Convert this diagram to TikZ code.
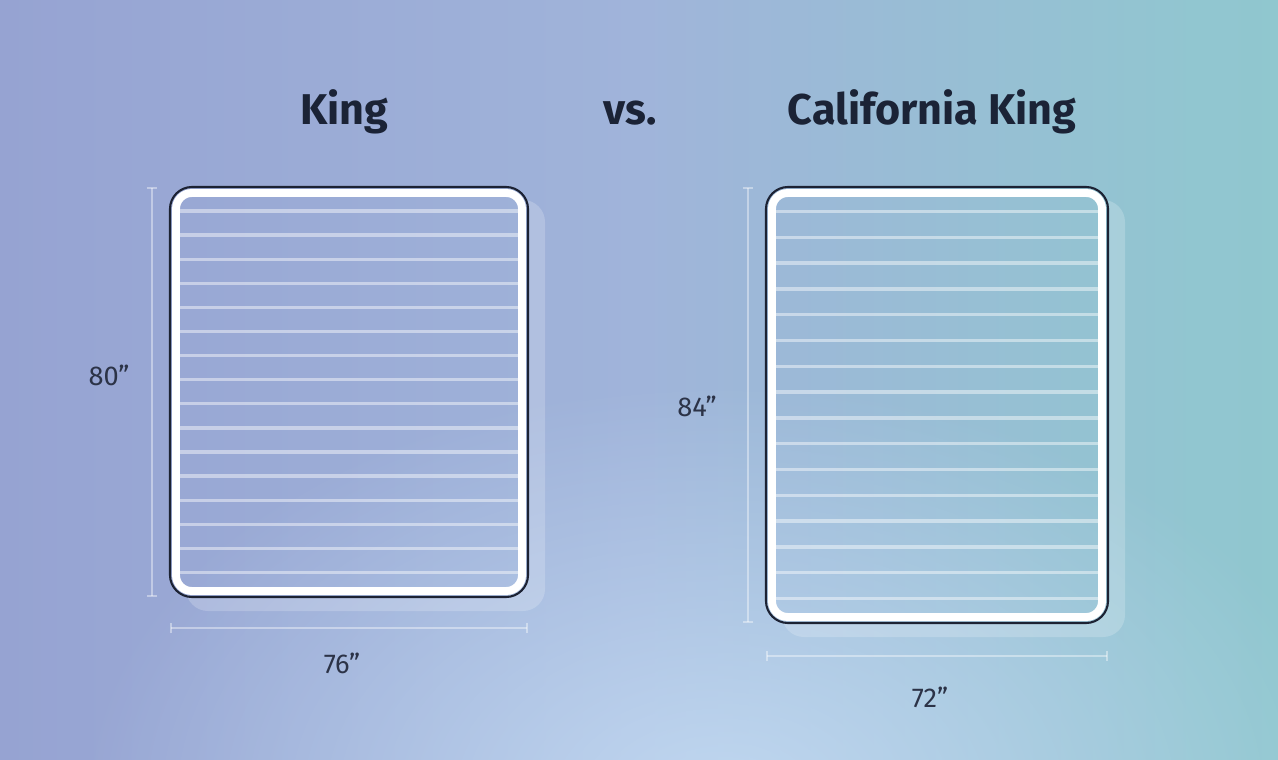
\documentclass[tikz,border=0pt]{standalone}
\usepackage{fontspec}
\setmainfont{Fira Sans}
\usetikzlibrary{arrows.meta,fadings}
\definecolor{bgA}{RGB}{138,147,200}
\definecolor{bgB}{RGB}{150,163,210}
\definecolor{bgC}{RGB}{160,180,218}
\definecolor{bgD}{RGB}{145,198,208}
\definecolor{bgE}{RGB}{136,204,198}
\definecolor{bgLight}{HTML}{C6DDF4}
\definecolor{edgeC}{HTML}{1C2233}
\definecolor{titleC}{HTML}{1B2336}
\definecolor{labelC}{HTML}{2C3347}
\pgfdeclarehorizontalshading{bgshade}{100bp}{color(0bp)=(bgA); color(25bp)=(bgB); color(50bp)=(bgC); color(72bp)=(bgD); color(100bp)=(bgE)}
\tikzfading[name=myfade, inner color=transparent!0, outer color=transparent!100]
\tikzset{
  dimline/.style={draw=white, draw opacity=0.4, line width=1.1pt, {Bar[width=6pt]}-{Bar[width=6pt]}},
  slat/.style={draw=white, draw opacity=0.45, line width=1.9pt},
  framebox/.style={draw=white, line width=4.5pt, rounded corners=9pt},
  edgebox/.style={draw=edgeC, line width=1.2pt, rounded corners=12.5pt},
  shadowbox/.style={fill=white, fill opacity=0.2, rounded corners=12.5pt},
  title/.style={font=\fontsize{24.5}{28}\selectfont\bfseries, text=titleC, anchor=base, inner sep=0pt},
  dimlabel/.style={font=\fontsize{15.5}{18}\selectfont, text=labelC, anchor=base, inner sep=0pt},
}
\begin{document}
\begin{tikzpicture}[x=0.02cm,y=-0.02cm]
\useasboundingbox (0,0) rectangle (1278,760);
% background
\shade[shading=bgshade] (0,0) rectangle (1278,760);
\fill[bgLight, fill opacity=0.85, path fading=myfade] (720,800) ellipse [x radius=640, y radius=420];

% titles
\node[title] (tK) at (344,125) {King};
\node[title] (vs) at (630,125) {vs.};
\node[title] (tC) at (932,125) {California King};

% ---------- King ----------
\coordinate (kTL) at (170,187);
\coordinate (kBR) at (528,597);
\begin{scope}[even odd rule, rounded corners=12.5pt]
  \clip (-10,-10) rectangle (1290,770) (kTL) rectangle (kBR);
  \fill[shadowbox] (186,200) rectangle (545,611);
\end{scope}
\foreach \i in {0,...,15}
  \draw[slat] (180,{211+24.1*\i}) -- (519,{211+24.1*\i});
\draw[framebox] (176,193) rectangle (522,591);
\draw[edgebox] (kTL) rectangle (kBR);

\coordinate (kvT) at (152,187);
\coordinate (kvB) at (152,597);
\draw[dimline] (kvT) -- (kvB);
\coordinate (khL) at (170,628);
\coordinate (khR) at (528,628);
\draw[dimline] (khL) -- (khR);
\node[dimlabel] (k80) at (109,385) {80”};
\node[dimlabel] (k76) at (342,673) {76”};

% ---------- California King ----------
\coordinate (cTL) at (766,187);
\coordinate (cBR) at (1108,623);
\begin{scope}[even odd rule, rounded corners=12.5pt]
  \clip (-10,-10) rectangle (1290,770) (cTL) rectangle (cBR);
  \fill[shadowbox] (782,200) rectangle (1125,637);
\end{scope}
\foreach \i in {0,...,15}
  \draw[slat] (776,{211.5+25.8*\i}) -- (1098,{211.5+25.8*\i});
\draw[framebox] (772,193) rectangle (1102,617);
\draw[edgebox] (cTL) rectangle (cBR);

\coordinate (cvT) at (748,187);
\coordinate (cvB) at (748,623);
\draw[dimline] (cvT) -- (cvB);
\coordinate (chL) at (766,656);
\coordinate (chR) at (1108,656);
\draw[dimline] (chL) -- (chR);
\node[dimlabel] (c84) at (697,416) {84”};
\node[dimlabel] (c72) at (930,707) {72”};
\end{tikzpicture}
\end{document}
